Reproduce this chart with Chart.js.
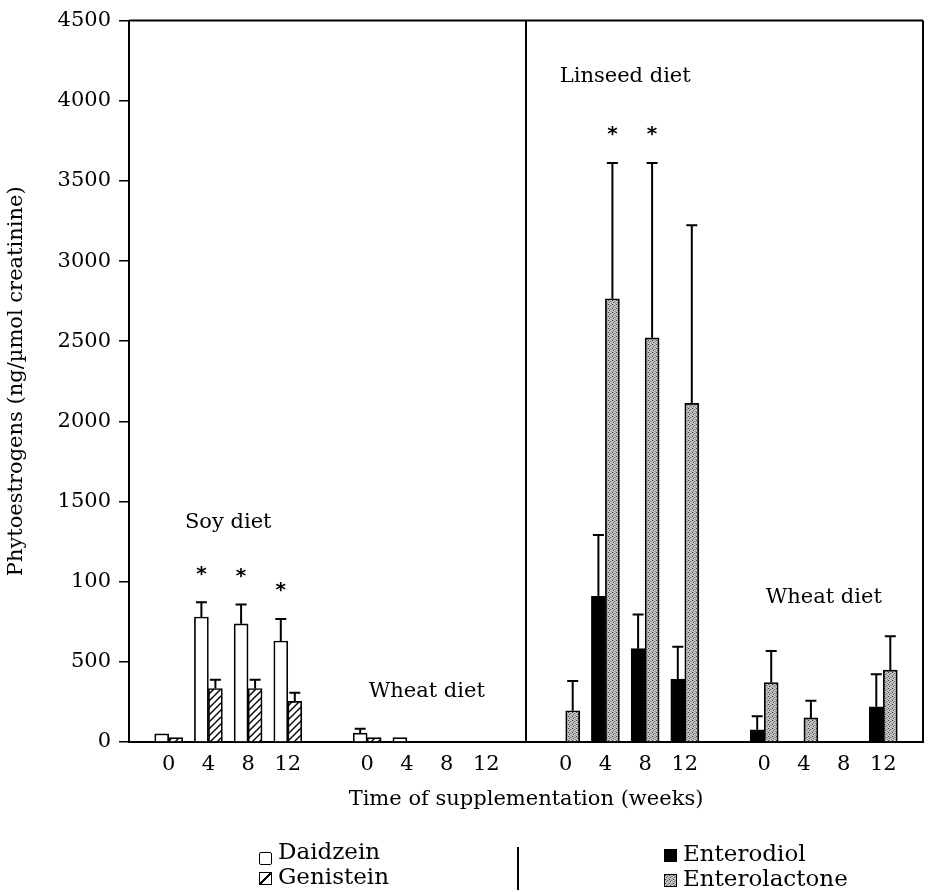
<!DOCTYPE html>
<html><head><meta charset="utf-8">
<script src="https://cdn.jsdelivr.net/npm/chart.js@4.4.0/dist/chart.umd.min.js"></script>
<style>
html,body{margin:0;padding:0;background:#fff;}
#wrap{position:relative;width:933px;height:892px;overflow:hidden;}
#c{position:absolute;left:0;top:0;}
.leg{position:absolute;font-family:"DejaVu Serif";font-size:23px;color:#000;line-height:1;white-space:nowrap;}
.box{position:absolute;width:11px;height:11px;border:1.5px solid #000;box-sizing:content-box;}
.sep{position:absolute;left:517px;top:847px;width:2px;height:43px;background:#000;}
</style></head><body>
<div id="wrap"><canvas id="c" width="933" height="892"></canvas>
<div class="box" style="left:259px;top:852px;background:#fff;border-radius:2px"></div>
<div class="leg" style="left:278px;top:840px">Daidzein</div>
<div class="box" style="left:259px;top:872px;background:linear-gradient(135deg,#fff 0 44%,#000 44% 56%,#fff 56% 100%);"></div>
<div class="leg" style="left:278px;top:865px">Genistein</div>
<div class="sep"></div>
<div class="box" style="left:664px;top:849px;background:#000;"></div>
<div class="leg" style="left:683px;top:842px">Enterodiol</div>
<div class="box" id="elbox" style="left:664px;top:874px;"></div>
<div class="leg" style="left:683px;top:867px">Enterolactone</div>
</div>
<script>
// ---- data ----
const weeks = ['0', '4', '8', '12'];
const yTickLabels = ['0', '500', '100', '1500', '2000', '2500', '3000', '3500', '4000', '4500'];
const yAxisTitle = 'Phytoestrogens (ng/\u00b5mol creatinine)';
const xAxisTitle = 'Time of supplementation (weeks)';

// Soy diet panel (isoflavones)
const soyDaidzein = [51, 780, 737, 630];
const soyDaidzeinErr = [0, 91, 120, 138];
const soyGenistein = [28, 334, 334, 253];
const soyGenisteinErr = [0, 54, 54, 54];
const soySignificant = [false, true, true, true];
// Wheat diet (isoflavones)
const wheatDaidzein = [55, 28, 0, 0];
const wheatDaidzeinErr = [27, 0, 0, 0];
const wheatGenistein = [28, 0, 0, 0];
const wheatGenisteinErr = [0, 0, 0, 0];
// Linseed diet panel (lignans)
const linseedEnterodiol = [0, 909, 582, 392];
const linseedEnterodiolErr = [0, 382, 213, 202];
const linseedEnterolactone = [195, 2765, 2521, 2112];
const linseedEnterolactoneErr = [186, 846, 1090, 1112];
const linseedSignificant = [false, true, true, false];
// Wheat diet (lignans)
const wheatEnterodiol = [76, 0, 0, 220];
const wheatEnterodiolErr = [84, 0, 0, 203];
const wheatEnterolactone = [371, 150, 0, 448];
const wheatEnterolactoneErr = [197, 107, 0, 211];

const panelTexts = [
  {text: 'Soy diet', at: 2.5, value: 1370},
  {text: 'Wheat diet', at: 7.5, value: 315},
  {text: 'Linseed diet', at: 12.5, value: 4150},
  {text: 'Wheat diet', at: 17.5, value: 900}
];

// ---- build the category layout: blank | soy | blank | wheat | divider | linseed | blank | wheat | blank
const blank = [''];
const labels = [].concat(blank, weeks, blank, weeks, blank, weeks, blank, weeks, blank);
const nil4 = [null, null, null, null];
function layout(g1, g2, g3, g4) {
  return [].concat([null], g1, [null], g2, [null], g3, [null], g4, [null]);
}
const f4 = [false, false, false, false];

// ---- patterns ----
function hatchPattern() {
  const c = document.createElement('canvas'); c.width = 7; c.height = 7;
  const x = c.getContext('2d');
  x.fillStyle = '#fff'; x.fillRect(0, 0, 7, 7);
  x.strokeStyle = '#000'; x.lineWidth = 1.4;
  x.beginPath();
  x.moveTo(-1, 8); x.lineTo(8, -1);
  x.moveTo(-4.5, 4.5); x.lineTo(4.5, -4.5);
  x.moveTo(2.5, 11.5); x.lineTo(11.5, 2.5);
  x.stroke();
  return x.createPattern(c, 'repeat');
}
function stippleCanvas() {
  const c = document.createElement('canvas'); c.width = 4; c.height = 4;
  const x = c.getContext('2d');
  x.fillStyle = '#c4c4c4'; x.fillRect(0, 0, 4, 4);
  const dots = [[0,0,'#444'],[2,1,'#777'],[1,2,'#555'],[3,3,'#888'],[3,1,'#999'],[1,0,'#aaa']];
  dots.forEach(d => { x.fillStyle = d[2]; x.fillRect(d[0], d[1], 1, 1); });
  return c;
}
const stip = stippleCanvas();
document.getElementById('elbox').style.background = 'url(' + stip.toDataURL() + ') repeat';

Chart.defaults.font.family = 'DejaVu Serif';
Chart.defaults.font.size = 21;
Chart.defaults.color = '#000';

const errorBarPlugin = {
  id: 'errorBars',
  afterDatasetsDraw(chart) {
    const ctx = chart.ctx, ys = chart.scales.y;
    ctx.save();
    chart.data.datasets.forEach((ds, i) => {
      const meta = chart.getDatasetMeta(i);
      meta.data.forEach((bar, j) => {
        const v = ds.data[j];
        if (v == null) return;
        const e = ds.errors[j];
        const x = bar.x;
        let yTop = bar.y;
        if (e) {
          yTop = ys.getPixelForValue(v + e);
          ctx.strokeStyle = '#000'; ctx.lineWidth = 2;
          ctx.beginPath();
          ctx.moveTo(x, bar.y); ctx.lineTo(x, yTop);
          ctx.moveTo(x - 5.5, yTop); ctx.lineTo(x + 5.5, yTop);
          ctx.stroke();
        }
        if (ds.significant[j]) {
          ctx.fillStyle = '#000';
          ctx.font = 'bold 20px "DejaVu Sans"';
          ctx.textAlign = 'center'; ctx.textBaseline = 'middle';
          ctx.fillText('*', x, yTop - 28);
        }
      });
    });
    ctx.restore();
  }
};

const framePlugin = {
  id: 'frame',
  afterDraw(chart) {
    const ctx = chart.ctx, a = chart.chartArea, xs = chart.scales.x, ys = chart.scales.y;
    ctx.save();
    ctx.strokeStyle = '#000'; ctx.lineWidth = 2;
    const xd = xs.getPixelForValue(10);
    ctx.beginPath();
    ctx.moveTo(a.left, a.top); ctx.lineTo(a.right, a.top);
    ctx.moveTo(a.right, a.top); ctx.lineTo(a.right, a.bottom);
    ctx.moveTo(xd, a.top); ctx.lineTo(xd, a.bottom);
    ctx.stroke();
    ctx.fillStyle = '#000';
    ctx.font = '21px "DejaVu Serif"';
    ctx.textAlign = 'center'; ctx.textBaseline = 'middle';
    panelTexts.forEach(p => {
      const x0 = xs.getPixelForValue(Math.floor(p.at));
      const x1 = xs.getPixelForValue(Math.ceil(p.at));
      ctx.fillText(p.text, x0 + (x1 - x0) * (p.at - Math.floor(p.at)), ys.getPixelForValue(p.value));
    });
    ctx.restore();
  }
};

const common = {borderColor: '#000', borderWidth: 1.7, barThickness: 14, borderSkipped: 'start'};

new Chart(document.getElementById('c'), {
  type: 'bar',
  data: {
    labels: labels,
    datasets: [
      Object.assign({label: 'Daidzein', backgroundColor: '#fff',
        data: layout(soyDaidzein, wheatDaidzein, nil4, nil4),
        errors: layout(soyDaidzeinErr, wheatDaidzeinErr, nil4, nil4),
        significant: layout(soySignificant, f4, f4, f4)}, common),
      Object.assign({label: 'Genistein', backgroundColor: hatchPattern(),
        data: layout(soyGenistein, wheatGenistein, nil4, nil4),
        errors: layout(soyGenisteinErr, wheatGenisteinErr, nil4, nil4),
        significant: layout(f4, f4, f4, f4)}, common),
      Object.assign({label: 'Enterodiol', backgroundColor: '#000',
        data: layout(nil4, nil4, linseedEnterodiol, wheatEnterodiol),
        errors: layout(nil4, nil4, linseedEnterodiolErr, wheatEnterodiolErr),
        significant: layout(f4, f4, f4, f4)}, common),
      Object.assign({label: 'Enterolactone',
        backgroundColor: document.createElement('canvas').getContext('2d').createPattern(stip, 'repeat'),
        data: layout(nil4, nil4, linseedEnterolactone, wheatEnterolactone),
        errors: layout(nil4, nil4, linseedEnterolactoneErr, wheatEnterolactoneErr),
        significant: layout(f4, f4, linseedSignificant, f4)}, common)
    ]
  },
  options: {
    responsive: false,
    animation: false,
    skipNull: true,
    layout: {padding: {top: 16, right: 8, bottom: 70, left: 0}},
    plugins: {legend: {display: false}, tooltip: {enabled: false}},
    scales: {
      x: {
        offset: false,
        grid: {display: false, drawTicks: false, offset: false},
        border: {display: true, color: '#000', width: 2},
        ticks: {autoSkip: false, maxRotation: 0, padding: 10, font: {size: 21}},
        title: {display: true, text: xAxisTitle, font: {size: 21}, padding: {top: 0, bottom: 10}},
        afterFit(s) { s.height = 80; }
      },
      y: {
        min: 0, max: 4500,
        grid: {display: true, drawOnChartArea: false, drawTicks: true, tickLength: 10, color: '#000', lineWidth: 1.5},
        border: {display: true, color: '#000', width: 2},
        ticks: {stepSize: 500, padding: 8, font: {size: 21},
          callback: (v, i) => yTickLabels[i]},
        title: {display: true, text: yAxisTitle, font: {size: 21}, padding: {top: 4, bottom: 0}},
        afterFit(s) { s.width = 129; }
      }
    }
  },
  plugins: [errorBarPlugin, framePlugin]
});
</script>
</body></html>
